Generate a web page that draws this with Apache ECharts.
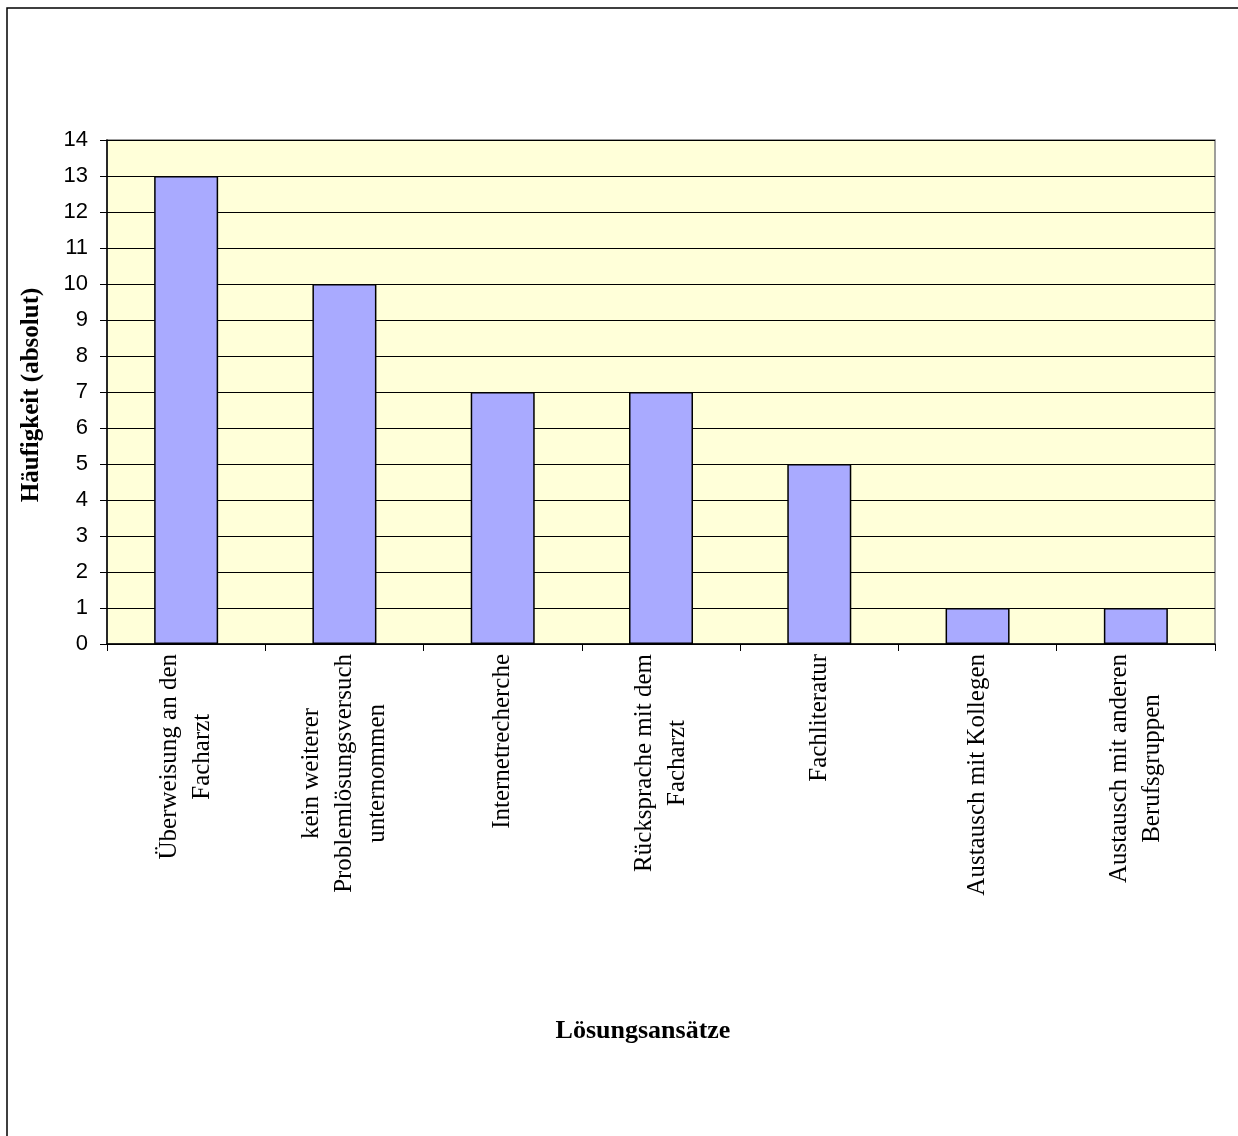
<!DOCTYPE html>
<html><head><meta charset="utf-8">
<script src="https://cdn.jsdelivr.net/npm/echarts@6/dist/echarts.min.js"></script>
<style>html,body{margin:0;padding:0;background:#fff}#c{width:1238px;height:1136px}</style>
</head><body><div id="c"></div>
<script>
const categories = [
  "Überweisung an den\nFacharzt",
  "kein weiterer\nProblemlösungsversuch\nunternommen",
  "Internetrecherche",
  "Rücksprache mit dem\nFacharzt",
  "Fachliteratur",
  "Austausch mit Kollegen",
  "Austausch mit anderen\nBerufsgruppen"
];
const values = [13, 10, 7, 7, 5, 1, 1];
const yTicks = [0, 14, 1];
const yTitle = "Häufigkeit (absolut)";
const xTitle = "Lösungsansätze";

const chart = echarts.init(document.getElementById('c'), null, {renderer: 'canvas'});
chart.setOption({
  backgroundColor: '#fff',
  animation: false,
  grid: {left: 107, top: 140, right: 23, bottom: 492, show: true,
    backgroundColor: '#FFFFD9', borderColor: '#808080', borderWidth: 1.5},
  graphic: [
    {type: 'rect', shape: {x: 7, y: 8, width: 1260, height: 1160},
     style: {fill: 'none', stroke: '#000', lineWidth: 1.5}, z: 100},
    {type: 'text', x: 643, y: 1031,
     style: {text: xTitle, font: 'bold 26px "Liberation Serif", serif', fill: '#000',
       align: 'center', verticalAlign: 'middle'}},
    {type: 'text', x: 32, y: 395, rotation: Math.PI / 2,
     style: {text: yTitle, font: 'bold 25px "Liberation Serif", serif', fill: '#000',
       align: 'center', verticalAlign: 'middle'}}
  ],
  xAxis: {
    type: 'category', data: categories,
    axisLine: {lineStyle: {color: '#000', width: 1.5}},
    axisTick: {show: true, length: 7, lineStyle: {color: '#000'}},
    axisLabel: {
      interval: 0, rotate: 90, margin: 10, color: '#000',
      fontFamily: '"Liberation Serif", serif', fontSize: 25, lineHeight: 33,
      formatter: v => v.split('\n').map(l => '{c|' + l + '}').join('\n'),
      rich: {c: {align: 'center', fontFamily: '"Liberation Serif", serif', fontSize: 25, lineHeight: 33, color: '#000'}}
    }
  },
  yAxis: {
    type: 'value', min: yTicks[0], max: yTicks[1], interval: yTicks[2],
    axisLine: {show: true, lineStyle: {color: '#000', width: 1.5}},
    axisTick: {show: true, length: 7, lineStyle: {color: '#000'}},
    axisLabel: {color: '#000', fontFamily: '"Liberation Sans", Arial, sans-serif', fontSize: 22, margin: 19},
    splitLine: {lineStyle: {color: '#000', width: 1}}
  },
  series: [{
    type: 'bar', data: values, barWidth: 64,
    itemStyle: {color: '#A9AAFF', borderColor: '#000', borderWidth: 1.5}
  }]
});
</script></body></html>
